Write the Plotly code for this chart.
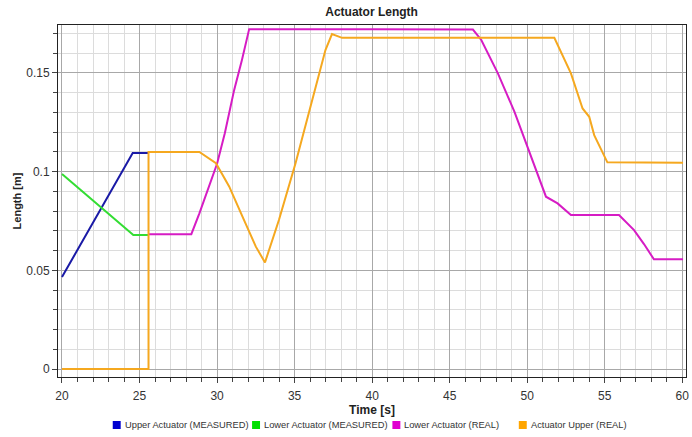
import plotly.graph_objects as go

# ---- data ----
upper_meas_t = [20.0, 24.56, 25.55]
upper_meas_y = [0.0466, 0.1094, 0.1094]

lower_meas_t = [20.0, 24.6, 25.55]
lower_meas_y = [0.0988, 0.0679, 0.0679]

lower_real_t = [25.55, 28.34, 28.86, 29.5, 30.0, 30.5, 31.1, 31.6, 32.07, 40.0, 46.5,
                47.04, 48.11, 49.18, 50.25, 51.21, 51.96, 52.82, 55.92, 56.89, 57.53,
                58.17, 60.05]
lower_real_y = [0.0683, 0.0683, 0.0789, 0.0935, 0.1040, 0.1195, 0.1413, 0.1565, 0.1722,
                0.1722, 0.1720, 0.1667, 0.1498, 0.1303, 0.1075, 0.0873, 0.0839, 0.0780,
                0.0780, 0.0704, 0.0633, 0.0556, 0.0556]

upper_real_t = [20.0, 25.58, 25.58, 28.86, 29.93, 30.78, 31.64, 32.5, 33.09, 33.99,
                35.06, 36.13, 36.99, 37.41, 38.06, 45.0, 51.75, 52.82, 53.57, 54.0,
                54.32, 55.17, 60.05]
upper_real_y = [0.0, 0.0, 0.1100, 0.1100, 0.1043, 0.0925, 0.0772, 0.0620, 0.0540, 0.0755,
                0.1042, 0.1363, 0.1616, 0.1697, 0.1678, 0.1678, 0.1678, 0.1498, 0.1320,
                0.1278, 0.1185, 0.1047, 0.1045]

names = ["Upper Actuator (MEASURED)", "Lower Actuator (MEASURED)",
         "Lower Actuator (REAL)", "Actuator Upper (REAL)"]
line_colors = ["#1a1aa6", "#33dd33", "#d61cc4", "#f5a81f"]
legend_colors = ["#0000d0", "#00e000", "#e000d0", "#ffa500"]

x_ticks = [20, 25, 30, 35, 40, 45, 50, 55, 60]
y_ticks = [0, 0.05, 0.1, 0.15]
y_ticktext = ["0", "0.05", "0.1", "0.15"]

series = [(upper_meas_t, upper_meas_y), (lower_meas_t, lower_meas_y),
          (lower_real_t, lower_real_y), (upper_real_t, upper_real_y)]

FONT = "Liberation Sans, Arial, sans-serif"

fig = go.Figure()
for (t, y), c, n in zip(series, line_colors, names):
    fig.add_trace(go.Scatter(x=t, y=y, mode="lines", name=n, line=dict(color=c, width=2),
                             showlegend=False))

# legend drawn as small squares + labels below the plot (paper coordinates)
plot_l, plot_w, plot_t, plot_h = 58, 631, 25, 352
sq_left_px = [113, 253, 394, 521]
leg_y_px = 425
sq = 8
for px, n, c in zip(sq_left_px, names, legend_colors):
    x0 = (px - plot_l) / plot_w
    x1 = (px + sq - plot_l) / plot_w
    yc = (plot_t + plot_h - leg_y_px) / plot_h
    fig.add_shape(type="rect", xref="paper", yref="paper",
                  x0=x0, x1=x1, y0=yc - sq / 2 / plot_h, y1=yc + sq / 2 / plot_h,
                  fillcolor=c, line=dict(width=0))
    fig.add_annotation(xref="paper", yref="paper", x=(px + sq + 2 - plot_l) / plot_w, y=yc,
                       xanchor="left", yanchor="middle", text=n, showarrow=False,
                       font=dict(family=FONT, size=9.3, color="#333333"))

axis_common = dict(
    showline=True, linecolor="#222222", linewidth=1, mirror=True,
    ticks="outside", ticklen=5, tickcolor="#444444",
    showgrid=True, gridcolor="#a8a8a8", gridwidth=1,
    zeroline=False, ticklabeloverflow="allow",
    tickfont=dict(family=FONT, size=12, color="#333333"),
)

fig.update_layout(
    width=692, height=437,
    margin=dict(l=plot_l, r=692 - plot_l - plot_w, t=plot_t, b=437 - plot_t - plot_h),
    paper_bgcolor="white", plot_bgcolor="white",
    showlegend=False,
    title=dict(text="<b>Actuator Length</b>", x=0.537, xanchor="center", y=0.972, yanchor="middle",
               font=dict(family=FONT, size=12, color="#222222")),
    xaxis=dict(range=[19.743, 60.24], tickmode="array", tickvals=x_ticks,
               ticklabelstandoff=3,
               minor=dict(dtick=1, tick0=20, ticks="outside", ticklen=4, tickcolor="#444444",
                          showgrid=True, gridcolor="#dcdcdc", gridwidth=1),
               title=dict(text="<b>Time [s]</b>", standoff=0,
                          font=dict(family=FONT, size=12, color="#222222")),
               **axis_common),
    yaxis=dict(range=[-0.00405, 0.1743], tickmode="array", tickvals=y_ticks,
               ticktext=y_ticktext,
               minor=dict(dtick=0.01, tick0=0, ticks="outside", ticklen=4, tickcolor="#444444",
                          showgrid=True, gridcolor="#dcdcdc", gridwidth=1),
               title=dict(text="<b>Length [m]</b>", standoff=2,
                          font=dict(family=FONT, size=11, color="#222222")),
               **axis_common),
)

fig.write_html("out.html")
